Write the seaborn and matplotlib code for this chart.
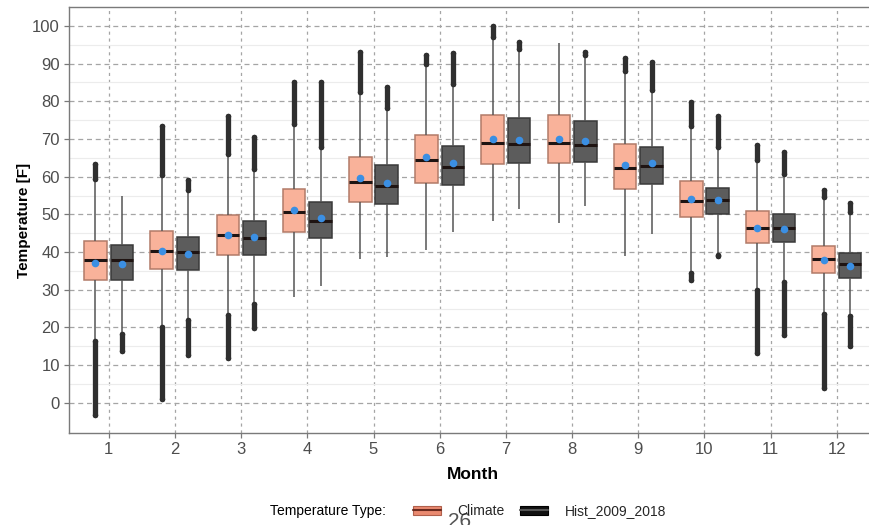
import numpy as np
import pandas as pd
import matplotlib
matplotlib.use("Agg")
import matplotlib.pyplot as plt
from matplotlib.patches import Patch
from matplotlib.lines import Line2D
from matplotlib.legend_handler import HandlerTuple
import seaborn as sns

months = list(range(1, 13))
types = ["Climate", "Hist_2009_2018"]

# box stats (deg F)
clim_lo = [17.0, 20.6, 23.7, 28.2, 38.2, 40.5, 48.2, 47.6, 38.9, 34.8, 30.4, 24.0]
clim_q1 = [32.5, 35.5, 39.3, 45.2, 53.3, 58.4, 63.4, 63.5, 56.8, 49.2, 42.5, 34.4]
clim_med = [37.9, 40.4, 44.4, 50.6, 58.7, 64.3, 69.0, 69.0, 62.2, 53.6, 46.5, 38.1]
clim_q3 = [43.0, 45.6, 49.9, 56.8, 65.2, 71.1, 76.3, 76.3, 68.8, 58.8, 50.8, 41.6]
clim_hi = [59.0, 60.0, 65.5, 73.5, 81.9, 89.4, 96.5, 95.4, 87.4, 72.7, 63.9, 54.2]
clim_mean = [37.2, 40.2, 44.6, 51.2, 59.6, 65.2, 70.1, 70.1, 63.2, 54.1, 46.5, 37.9]

hist_lo = [18.8, 22.4, 26.8, 31.0, 38.6, 45.3, 51.4, 52.3, 44.8, 39.6, 32.6, 23.4]
hist_q1 = [32.5, 35.3, 39.3, 43.7, 52.8, 57.8, 63.6, 63.8, 58.1, 50.0, 42.7, 33.2]
hist_med = [37.9, 39.9, 43.7, 48.2, 57.5, 62.5, 68.7, 68.4, 62.7, 53.7, 46.5, 36.8]
hist_q3 = [41.8, 43.9, 48.3, 53.3, 63.0, 68.2, 75.5, 74.8, 67.8, 57.1, 50.0, 39.8]
hist_hi = [54.9, 56.0, 61.5, 67.4, 77.7, 84.1, 93.3, 91.8, 82.5, 67.4, 60.1, 50.2]
hist_mean = [36.9, 39.5, 43.9, 49.1, 58.4, 63.7, 69.7, 69.5, 63.5, 53.9, 46.0, 36.3]

# outlier streaks (low end, high end), None where there are none
clim_out_top = [(59.5, 63.3), (60.5, 73.5), (66.0, 76.2), (74.0, 85.0), (82.5, 93.0), (89.8, 92.2),
                (97.0, 100.0), None, (88.0, 91.6), (73.5, 79.7), (64.5, 68.3), (54.7, 56.4)]
clim_out_bot = [(-3.3, 16.5), (1.0, 20.2), (11.8, 23.3), None, None, None,
                None, None, None, (32.6, 34.4), (13.2, 30.0), (4.0, 23.6)]
hist_out_top = [None, (56.5, 59.0), (62.0, 70.5), (68.0, 85.0), (78.2, 83.7), (84.5, 92.7),
                (93.8, 95.6), (92.2, 93.2), (83.0, 90.3), (67.9, 76.2), (60.6, 66.5), (50.7, 53.0)]
hist_out_bot = [(13.8, 18.3), (12.7, 22.0), (19.8, 26.2), None, None, None,
                None, None, None, (38.9, 39.1), (18.1, 32.1), (15.2, 23.0)]

colors = {"Climate": "#f9b29a", "Hist_2009_2018": "#5c5c5c"}

# long table: five values per box so quartiles land exactly on the read stats
rows = []
for t, stats in [("Climate", [clim_lo, clim_q1, clim_med, clim_q3, clim_hi]),
                 ("Hist_2009_2018", [hist_lo, hist_q1, hist_med, hist_q3, hist_hi])]:
    for i, m in enumerate(months):
        for s in stats:
            rows.append({"Month": m, "Type": t, "Temperature": s[i]})
df = pd.DataFrame(rows)
means = pd.DataFrame({"Month": months * 2,
                      "Type": ["Climate"] * 12 + ["Hist_2009_2018"] * 12,
                      "Temperature": clim_mean + hist_mean})

sns.set_theme(style="white")
plt.rcParams["font.family"] = ["Liberation Sans", "DejaVu Sans"]

fig = plt.figure(figsize=(8.7, 5.25), dpi=100)
ax = fig.add_axes([0.0793, 0.1752, 0.9283, 0.8114])

sns.boxplot(data=df, x="Month", y="Temperature", hue="Type", order=months, hue_order=types,
            palette=colors, whis=(0, 100), width=0.8, gap=0.15, linecolor="#555555",
            linewidth=1.1, saturation=1, legend=False, ax=ax,
            medianprops={"color": "#1f1412", "linewidth": 2.2},
            capprops={"visible": False}, zorder=2)
for p in ax.patches:
    fc = p.get_facecolor()
    if fc[0] > 0.8:
        p.set_edgecolor("#b27a68")
    else:
        p.set_edgecolor("#3a3a3a")

# outlier streaks
pos = np.arange(len(months))
for off, tops, bots in [(-0.2, clim_out_top, clim_out_bot), (0.2, hist_out_top, hist_out_bot)]:
    for i in range(len(months)):
        for rng in (tops[i], bots[i]):
            if rng is None:
                continue
            ax.vlines(pos[i] + off, rng[0], rng[1], color="#2f2f2f", lw=3.8,
                      capstyle="round", zorder=3)
            ax.scatter([pos[i] + off] * 2, list(rng), s=16, color="#2f2f2f", lw=0, zorder=3)

sns.stripplot(data=means, x="Month", y="Temperature", hue="Type", order=months,
              hue_order=types, dodge=True, jitter=False, size=5.5,
              palette={"Climate": "#3b8fe3", "Hist_2009_2018": "#3b8fe3"},
              linewidth=0, legend=False, ax=ax, zorder=4)

ax.set_xlim(-0.6, 11.6)
ax.set_ylim(-8, 105)
ax.set_yticks(range(0, 101, 10))
ax.set_yticks(range(5, 101, 10), minor=True)
ax.grid(True, which="major", axis="y", color="#a5a5a5", lw=0.9, ls=(0, (4, 3)))
ax.grid(True, which="minor", axis="y", color="#ececec", lw=0.8, ls="-")
ax.grid(True, which="major", axis="x", color="#a5a5a5", lw=0.9, ls=(0, (2.5, 3)))
ax.set_axisbelow(True)

for s in ax.spines.values():
    s.set_color("#7a7a7a")
    s.set_linewidth(1.0)
ax.tick_params(axis="both", which="major", length=3.5, width=0.9, color="#7a7a7a",
               labelsize=12, labelcolor="#4d4d4d", direction="out", left=True, bottom=True, pad=3)
ax.tick_params(axis="y", which="minor", length=0)

ax.set_xlabel("Month", fontsize=12.5, fontweight="bold", color="black", labelpad=7)
ax.set_ylabel("Temperature [F]", fontsize=11, fontweight="bold", color="black", labelpad=1)

fig.text(270 / 870, 1 - 511 / 525, "Temperature Type:", fontsize=10, va="center", ha="left",
         color="black")
handles = [(Patch(facecolor="#ea8a70", edgecolor="#b0604c", lw=0.8), Line2D([], [], color="#6a2a1e", lw=1.5)),
           (Patch(facecolor="#111111", edgecolor="#000000", lw=0.8), Line2D([], [], color="#555555", lw=1.5))]
fig.legend(handles, types, loc="center left", bbox_to_anchor=(413 / 870, 1 - 511 / 525),
           ncol=2, frameon=False, fontsize=10, handlelength=2.0, handleheight=0.6,
           handletextpad=1.2, columnspacing=1.1, borderaxespad=0, borderpad=0,
           handler_map={tuple: HandlerTuple(ndivide=1, pad=0)})
fig.text(448 / 870, -0.012, "26", fontsize=15, color="#555555", va="bottom", ha="left")

fig.savefig("out.png", dpi=100)
